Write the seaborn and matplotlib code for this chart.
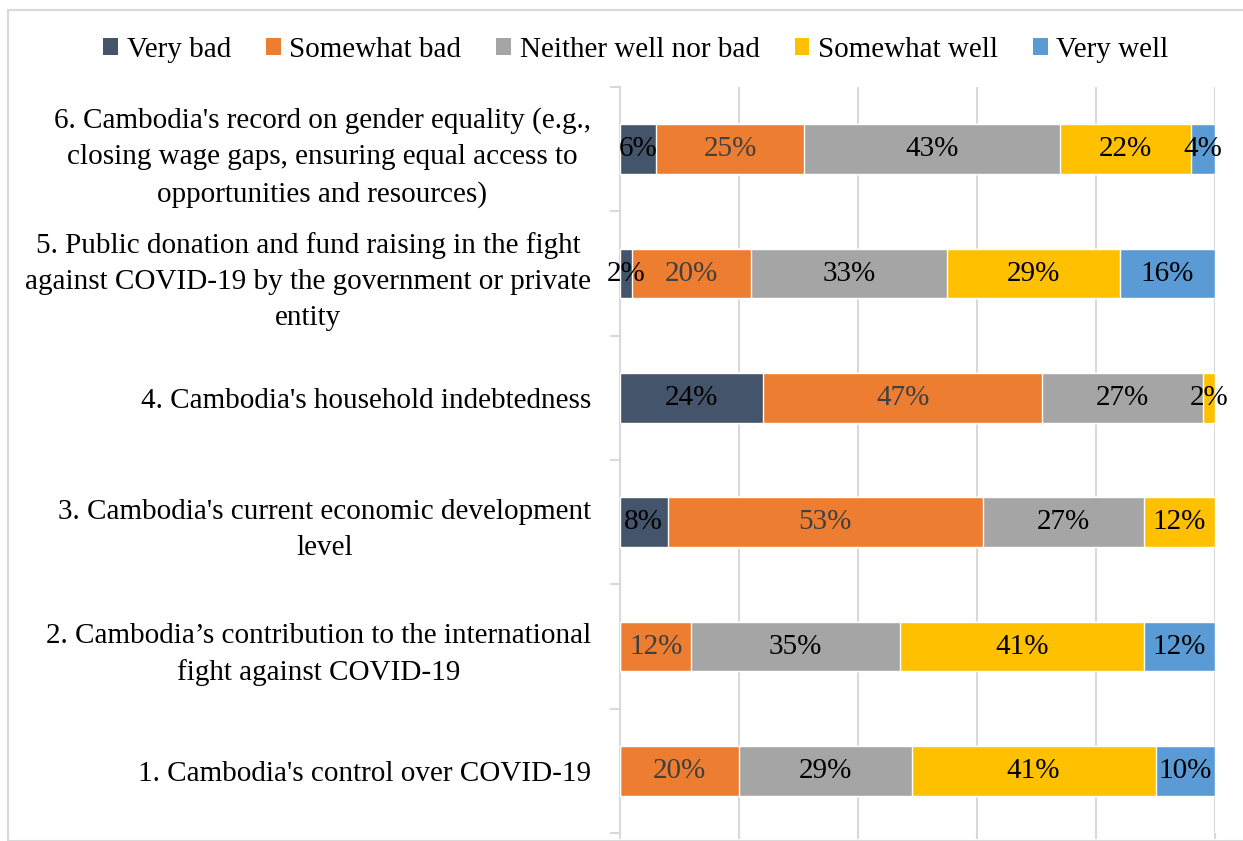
import matplotlib
matplotlib.use("Agg")
import matplotlib.pyplot as plt
from matplotlib.patches import Rectangle, Patch
from matplotlib.ticker import FixedLocator, NullFormatter
import seaborn as sns
import pandas as pd
import numpy as np

categories = [
    "6. Cambodia's record on gender equality (e.g.,\nclosing wage gaps, ensuring equal access to\nopportunities and resources)",
    "5. Public donation and fund raising in the fight\nagainst COVID-19 by the government or private\nentity",
    "4. Cambodia's household indebtedness",
    "3. Cambodia's current economic development\nlevel",
    "2. Cambodia\u2019s contribution to the international\nfight against COVID-19",
    "1. Cambodia's control over COVID-19",
]
series = ["Very bad", "Somewhat bad", "Neither well nor bad", "Somewhat well", "Very well"]
very_bad = [6, 2, 24, 8, 0, 0]
somewhat_bad = [25, 20, 47, 53, 12, 20]
neither = [43, 33, 27, 27, 35, 29]
somewhat_well = [22, 29, 2, 12, 41, 41]
very_well = [4, 16, 0, 0, 12, 10]

colors = ["#44546A", "#ED7D31", "#A5A5A5", "#FFC000", "#5B9BD5"]
label_colors = ["#000000", "#404040", "#000000", "#000000", "#000000"]

sns.set_theme(style="white")
plt.rcParams["font.family"] = ["Liberation Serif", "DejaVu Serif"]
plt.rcParams["text.color"] = "#000000"
FS = 21

values = np.array([very_bad, somewhat_bad, neither, somewhat_well, very_well], dtype=float)
cum = np.cumsum(values, axis=0)

fig = plt.figure(figsize=(12.43, 8.41), dpi=100)
ax = fig.add_axes([620 / 1243, 1 - 833 / 841, (1215 - 620) / 1243, (833 - 87) / 841])

# draw from the outermost cumulative layer inward
for i in range(len(series) - 1, -1, -1):
    df = pd.DataFrame({"cat": categories, "val": cum[i]})
    sns.barplot(data=df, y="cat", x="val", order=categories, color=colors[i],
                width=0.4, saturation=1, ax=ax, orient="h", zorder=3)

for i in range(len(series)):
    for j, cat in enumerate(categories):
        v = values[i, j]
        if v <= 0:
            continue
        xc = cum[i, j] - v / 2
        ax.text(xc, j, f"{int(round(v))}%", ha="center", va="center",
                fontsize=FS, color=label_colors[i], zorder=5)

ax.set_xlim(0, 100)
ax.set_ylim(len(categories) - 0.5, -0.5)
ax.set_xlabel("")
ax.set_ylabel("")
ax.xaxis.set_major_locator(FixedLocator([0, 20, 40, 60, 80, 100]))
ax.xaxis.set_major_formatter(NullFormatter())
ax.grid(axis="x", color="#D9D9D9", linewidth=1.5, zorder=0)
ax.set_axisbelow(True)
ax.tick_params(axis="x", which="major", length=4, color="#D9D9D9", width=1.5, bottom=True)
ax.tick_params(axis="y", which="major", length=0, pad=21, labelsize=FS, labelcolor="#000000")
ax.yaxis.set_minor_locator(FixedLocator(np.arange(-0.5, len(categories), 1.0)))
ax.tick_params(axis="y", which="minor", length=7, color="#D9D9D9", width=1.5, left=True)
for lab in ax.get_yticklabels():
    lab.set_multialignment("center")
    lab.set_linespacing(1.5)
for s in ["top", "right", "bottom"]:
    ax.spines[s].set_visible(False)
ax.spines["left"].set_color("#D9D9D9")
ax.spines["left"].set_linewidth(1.5)

handles = [Patch(facecolor=c, edgecolor="none") for c in colors]
leg = fig.legend(handles, series, loc="center", bbox_to_anchor=(636 / 1243, 1 - 50 / 841),
                 ncol=5, frameon=False, fontsize=FS, handlelength=0.5, handleheight=0.5,
                 handletextpad=0.3, columnspacing=1.2, labelcolor="#000000")

fig.patches.append(Rectangle((8 / 1243, 0), 1.2, 1 - 10 / 841, transform=fig.transFigure,
                             fill=False, edgecolor="#D9D9D9", linewidth=1.5))

fig.savefig("out.png", dpi=100, facecolor="white")
